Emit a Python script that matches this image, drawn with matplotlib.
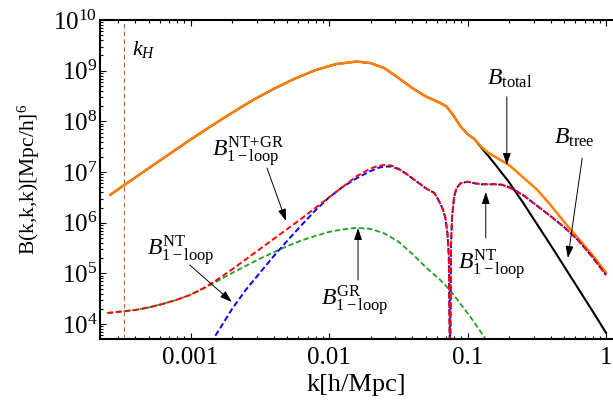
import numpy as np
import matplotlib
matplotlib.use("Agg")
import matplotlib.pyplot as plt
from matplotlib.ticker import LogLocator, NullFormatter

plt.rcParams['font.family'] = ['Liberation Serif', 'DejaVu Serif']
plt.rcParams['mathtext.fontset'] = 'custom'
plt.rcParams['mathtext.rm'] = 'Liberation Serif'
plt.rcParams['mathtext.it'] = 'Liberation Serif:italic'
plt.rcParams['mathtext.bf'] = 'Liberation Serif:bold'

# values: log10 k [h/Mpc] and log10 B [(Mpc/h)^6]
logk_tree = [-3.58, -3.47, -3.3, -3.15, -3.0, -2.85, -2.7, -2.55, -2.4, -2.25, -2.1,
             -1.95, -1.8, -1.7, -1.6, -1.5, -1.4, -1.3, -1.2, -1.15, -1.1, -1.05,
             -1.0, -0.95, -0.9, -0.85, -0.8, -0.7, -0.6, -0.5, -0.4, -0.3, -0.2,
             -0.1, 0.0]
logB_tree = [6.55, 6.76, 7.08, 7.36, 7.64, 7.91, 8.17, 8.42, 8.64, 8.84, 9.01,
             9.13, 9.18, 9.15, 9.05, 8.86, 8.66, 8.49, 8.37, 8.29, 8.11, 7.90,
             7.75, 7.65, 7.48, 7.32, 7.15, 6.80, 6.40, 5.98, 5.56, 5.13, 4.70,
             4.27, 3.83]

logk_total = [-3.58, -3.47, -3.3, -3.15, -3.0, -2.85, -2.7, -2.55, -2.4, -2.25, -2.1,
              -1.95, -1.8, -1.7, -1.6, -1.5, -1.4, -1.3, -1.2, -1.15, -1.1, -1.05,
              -1.0, -0.95, -0.9, -0.85, -0.8, -0.7, -0.6, -0.5, -0.4, -0.3, -0.2,
              -0.1, 0.0]
logB_total = [6.55, 6.76, 7.08, 7.36, 7.64, 7.91, 8.17, 8.42, 8.64, 8.84, 9.01,
              9.13, 9.18, 9.15, 9.05, 8.86, 8.66, 8.49, 8.37, 8.29, 8.11, 7.90,
              7.75, 7.65, 7.50, 7.38, 7.30, 7.14, 6.90, 6.66, 6.35, 6.01, 5.69,
              5.37, 5.02]

logk_ntgr = [-3.6, -3.5, -3.4, -3.3, -3.2, -3.1, -3.0, -2.9, -2.8, -2.7, -2.6, -2.5,
             -2.4, -2.3, -2.2, -2.1, -2.0, -1.9, -1.8, -1.7, -1.65, -1.6, -1.55, -1.5,
             -1.45, -1.4, -1.35, -1.3, -1.27, -1.24, -1.21, -1.18, -1.16, -1.145,
             -1.135, -1.126, -1.119, -1.112, -1.097, -1.08, -1.05, -1.0, -0.95, -0.9,
             -0.8, -0.75, -0.7, -0.6, -0.5, -0.4, -0.3, -0.2, -0.1, 0.0]
logB_ntgr = [4.22, 4.25, 4.28, 4.33, 4.40, 4.48, 4.58, 4.72, 4.89, 5.08, 5.28, 5.48,
             5.68, 5.88, 6.08, 6.29, 6.50, 6.71, 6.92, 7.07, 7.12, 7.14, 7.13, 7.07,
             6.98, 6.88, 6.78, 6.68, 6.63, 6.59, 6.45, 6.28, 6.10, 5.80,
             5.35, 3.0, 5.55, 6.10, 6.51, 6.68, 6.78, 6.81, 6.78, 6.76,
             6.76, 6.75, 6.70, 6.55, 6.34, 6.13, 5.91, 5.65, 5.33, 4.97]

logk_nt = [-2.9, -2.85, -2.8, -2.7, -2.6, -2.5, -2.4, -2.3, -2.2, -2.1, -2.0, -1.9,
           -1.8, -1.7, -1.65, -1.6, -1.55, -1.5, -1.45, -1.4, -1.35, -1.3, -1.27,
           -1.24, -1.21, -1.18, -1.16, -1.145, -1.135, -1.126, -1.119, -1.112, -1.097,
           -1.08, -1.05, -1.0, -0.95, -0.9, -0.8, -0.75, -0.7, -0.6, -0.5, -0.4,
           -0.3, -0.2, -0.1, 0.0]
logB_nt = [3.40, 3.65, 3.86, 4.30, 4.68, 5.01, 5.34, 5.65, 5.95, 6.24, 6.50, 6.71,
           6.88, 7.02, 7.08, 7.11, 7.11, 7.06, 6.98, 6.88, 6.78, 6.68, 6.63,
           6.59, 6.45, 6.28, 6.10, 5.80, 5.35, 3.0, 5.55, 6.10, 6.51,
           6.68, 6.78, 6.81, 6.78, 6.76, 6.76, 6.75, 6.70, 6.55, 6.34, 6.13,
           5.91, 5.65, 5.33, 4.97]

logk_gr = [-3.6, -3.5, -3.4, -3.3, -3.2, -3.1, -3.0, -2.9, -2.8, -2.7, -2.6, -2.5,
           -2.4, -2.3, -2.2, -2.1, -2.0, -1.9, -1.8, -1.7, -1.6, -1.5, -1.4, -1.3,
           -1.2, -1.15, -1.1, -1.05, -1.0, -0.95, -0.9, -0.85, -0.8]
logB_gr = [4.22, 4.25, 4.28, 4.33, 4.40, 4.48, 4.58, 4.71, 4.86, 5.01, 5.15, 5.29,
           5.42, 5.54, 5.65, 5.74, 5.82, 5.87, 5.90, 5.88, 5.79, 5.63, 5.39, 5.12,
           4.88, 4.74, 4.58, 4.40, 4.22, 4.03, 3.83, 3.63, 3.43]

k_H = 3.3e-4

xticks = [0.001, 0.01, 0.1, 1]
xtick_labels = ['0.001', '0.01', '0.1', '1']
yticks = [1e4, 1e5, 1e6, 1e7, 1e8, 1e9, 1e10]
ytick_labels = [r'$10^{4}$', r'$10^{5}$', r'$10^{6}$', r'$10^{7}$',
                r'$10^{8}$', r'$10^{9}$', r'$10^{10}$']


def pw(a):
    return 10 ** np.array(a)


fig = plt.figure(figsize=(6.13, 4.18), dpi=100)
ax = fig.add_axes([100 / 613, 79 / 418, 513 / 613, 319 / 418])

ax.axvline(k_H, color='#b5651d', lw=0.8, ls=(0, (4, 3)))
ax.plot(pw(logk_tree), pw(logB_tree), color='black', lw=1.5)
ax.plot(pw(logk_total), pw(logB_total), color='#ff8000', lw=1.8)
ax.plot(pw(logk_gr), pw(logB_gr), color='#1fa01f', lw=1.3, ls=(0, (3, 1.5)))
ax.plot(pw(logk_nt), pw(logB_nt), color='#0000ff', lw=1.4, ls=(2.25, (3, 1.5)))
ax.plot(pw(logk_ntgr), pw(logB_ntgr), color='#ff0000', lw=1.4, ls=(0, (3, 1.5)))

ax.set_xscale('log')
ax.set_yscale('log')
ax.set_xlim(2.221e-4, 1.123)
ax.set_ylim(5.1e3, 1e10)

ax.set_xticks(xticks)
ax.set_xticklabels(xtick_labels)
ax.set_yticks(yticks)
ax.set_yticklabels(ytick_labels)
ax.xaxis.set_minor_locator(LogLocator(base=10, subs=np.arange(2, 10), numticks=20))
ax.yaxis.set_minor_locator(LogLocator(base=10, subs=np.arange(2, 10), numticks=20))
ax.xaxis.set_minor_formatter(NullFormatter())
ax.yaxis.set_minor_formatter(NullFormatter())
ax.tick_params(which='both', direction='in', top=True, right=False, width=0.8)
ax.tick_params(which='major', length=4)
ax.tick_params(which='minor', length=2)
ax.tick_params(axis='x', labelsize=18, pad=6)
ax.tick_params(axis='y', labelsize=18, pad=2)
for s in ['left', 'bottom', 'top']:
    ax.spines[s].set_linewidth(1.5)
ax.spines['right'].set_visible(False)

ax.set_xlabel('k[h/Mpc]', fontsize=19, labelpad=3)
ax.set_ylabel('B(k,k,k)[Mpc/h]$^{6}$', fontsize=15.5, labelpad=8)

# labels and arrows (axes fraction)
ax.text(0.0858, 0.909, r'$k_H$', fontsize=16, ha='center', va='center', transform=ax.transAxes)

labels = [
    (r'$B_{\rm total}$', (0.799, 0.815), (0.793, 0.759), (0.793, 0.545)),
    (r'$B_{\rm tree}$', (0.924, 0.630), (0.940, 0.567), (0.912, 0.254)),
    (r'$B^{\rm NT{+}GR}_{\rm 1-loop}$', (0.2885, 0.586), (0.3255, 0.536), (0.3626, 0.370)),
    (r'$B^{\rm NT}_{\rm 1-loop}$', (0.158, 0.276), (0.175, 0.232), (0.257, 0.116)),
    (r'$B^{\rm GR}_{\rm 1-loop}$', (0.497, 0.119), (0.503, 0.185), (0.503, 0.348)),
    (r'$B^{\rm NT}_{\rm 1-loop}$', (0.764, 0.232), (0.752, 0.317), (0.752, 0.461)),
]
for txt, pos, tail, head in labels:
    ax.text(pos[0], pos[1], txt, fontsize=17, ha='center', va='center', transform=ax.transAxes)
    ax.annotate('', xy=head, xytext=tail, xycoords='axes fraction', textcoords='axes fraction',
                arrowprops=dict(arrowstyle='-|>,head_length=0.6,head_width=0.2', color='k',
                                lw=0.7, shrinkA=0, shrinkB=0, mutation_scale=12))

fig.savefig('out.png', dpi=100)
